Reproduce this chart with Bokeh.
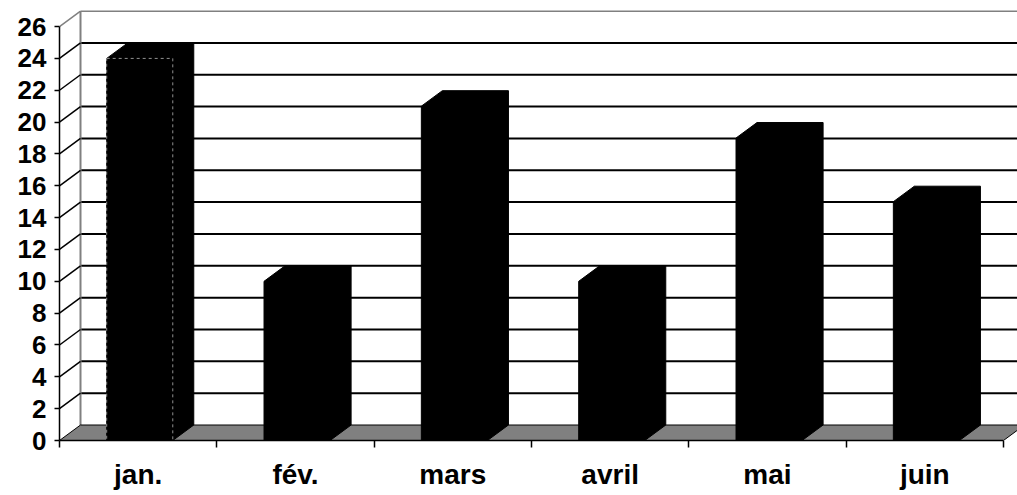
from bokeh.plotting import figure
from bokeh.models import Range1d, FixedTicker, LinearAxis
from bokeh.embed import file_html
from bokeh.resources import INLINE

# ---- data ----
months = ["jan.", "fév.", "mars", "avril", "mai", "juin"]
values = [24, 10, 21, 10, 19, 15]
y_ticks = list(range(0, 27, 2))

# ---- layout / 3D projection constants ----
W, H = 1017, 495
LEFT, TOP, BOTTOM = 59, 10, 55
PX_CAT = 157.33      # pixels per category
PX_UNIT = 15.92      # pixels per value unit
frame_w = W - LEFT
frame_h = H - TOP - BOTTOM
DX = 21 / PX_CAT     # depth offset (x, data units)
DY = 15.5 / PX_UNIT  # depth offset (y, data units)
BAR_L, BAR_W = 0.30, 0.42
n = len(months)
ymax = y_ticks[-1]
xr = frame_w / PX_CAT

FONT = "Liberation Sans"

p = figure(width=W, height=H,
           x_range=Range1d(0, xr), y_range=Range1d(0, frame_h / PX_UNIT),
           output_backend="svg", toolbar_location=None,
           min_border_left=LEFT, min_border_right=0,
           min_border_top=TOP, min_border_bottom=BOTTOM,
           x_axis_type=None, y_axis_type=None)
p.grid.visible = False
p.outline_line_color = None
p.background_fill_color = "white"
p.border_fill_color = "white"

# back wall gridlines
inner = y_ticks[1:-1]
p.segment(x0=[DX] * len(inner), y0=[v + DY for v in inner],
          x1=[xr] * len(inner), y1=[v + DY for v in inner],
          line_color="#000000", line_width=2)
# back wall top and left edges (gray)
p.segment(x0=[DX], y0=[ymax + DY], x1=[xr], y1=[ymax + DY],
          line_color="#808080", line_width=2)
p.segment(x0=[DX], y0=[DY], x1=[DX], y1=[ymax + DY],
          line_color="#808080", line_width=2)
# side wall diagonals
p.segment(x0=[0] * len(inner), y0=inner,
          x1=[DX] * len(inner), y1=[v + DY for v in inner],
          line_color="#000000", line_width=1.5)
p.segment(x0=[0], y0=[ymax], x1=[DX], y1=[ymax + DY],
          line_color="#808080", line_width=1.5)

# floor
p.patch(x=[0, n, n + DX, DX], y=[0, 0, DY, DY],
        fill_color="#808080", line_color="#000000", line_width=1)

# 3D bars
xs, ys = [], []
for i, v in enumerate(values):
    x0 = i + BAR_L
    x1 = x0 + BAR_W
    xs.append([x0, x1, x1 + DX, x1 + DX, x0 + DX, x0])
    ys.append([0, 0, DY, v + DY, v + DY, v])
p.patches(xs=xs, ys=ys, fill_color="#000000", line_color="#000000", line_width=1)

# selection outline on first bar front face
p.quad(left=[BAR_L], right=[BAR_L + BAR_W], bottom=[0], top=[values[0]],
       fill_color=None, line_color="#909090", line_dash="3 3", line_width=1)

# axes
yaxis = LinearAxis(ticker=FixedTicker(ticks=y_ticks), bounds=(0, ymax),
                   major_tick_out=5, major_tick_in=0,
                   minor_tick_out=0, minor_tick_in=0,
                   major_label_standoff=8,
                   major_label_text_font=FONT,
                   major_label_text_font_style="bold",
                   major_label_text_font_size="26px",
                   major_label_text_color="black",
                   axis_line_color="black", axis_line_width=1.5,
                   major_tick_line_color="black", major_tick_line_width=1.5)
p.add_layout(yaxis, "left")

centers = [i + 0.5 for i in range(n)]
xaxis = LinearAxis(ticker=FixedTicker(ticks=centers, minor_ticks=list(range(n + 1))),
                   bounds=(0, n),
                   major_tick_out=0, major_tick_in=0,
                   minor_tick_out=7, minor_tick_in=0,
                   minor_tick_line_color="black", minor_tick_line_width=1.5,
                   major_label_overrides={c: m for c, m in zip(centers, months)},
                   major_label_standoff=11,
                   major_label_text_font=FONT,
                   major_label_text_font_style="bold",
                   major_label_text_font_size="28px",
                   major_label_text_color="black",
                   axis_line_color="black", axis_line_width=1.5)
p.add_layout(xaxis, "below")

open("out.html", "w").write(file_html(p, INLINE))
